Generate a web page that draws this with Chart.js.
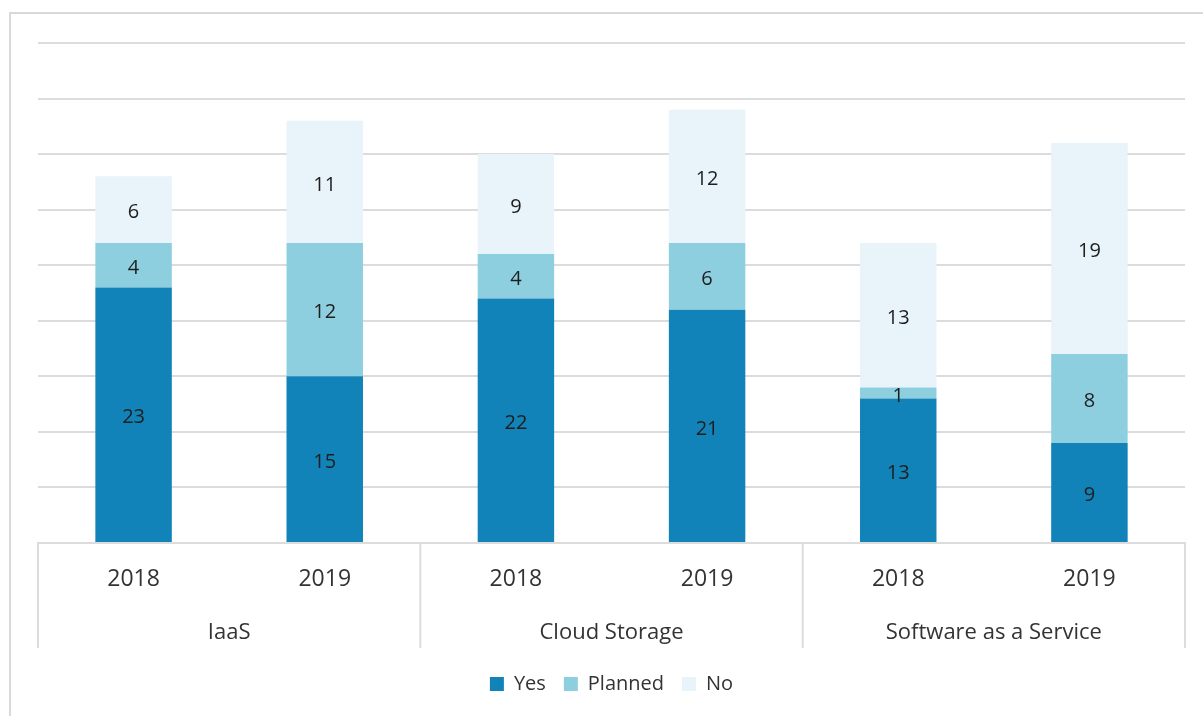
<!DOCTYPE html>
<html>
<head>
<meta charset="utf-8">
<script src="https://cdn.jsdelivr.net/npm/chart.js@4/dist/chart.umd.min.js"></script>
<style>
  html, body { margin: 0; padding: 0; background: #fff; }
  #frame {
    position: absolute; left: 9px; top: 12px; width: 1210px; height: 720px;
    border: 2px solid #d9d9d9; box-sizing: border-box;
  }
  #wrap { position: absolute; left: 0; top: 0; width: 1203px; height: 716px; }
</style>
</head>
<body>
<div id="frame"></div>
<div id="wrap"><canvas id="myChart"></canvas></div>
<script>
var years = ["2018", "2019", "2018", "2019", "2018", "2019"];
var groups = ["IaaS", "Cloud Storage", "Software as a Service"];

var yesData = [23, 15, 22, 21, 13, 9];
var plannedData = [4, 12, 4, 6, 1, 8];
var noData = [6, 11, 9, 12, 13, 19];

var FONT = "'Open Sans', 'Noto Sans', sans-serif";
var GRID = "#dcdcdc";
var TEXT = "#333333";

// value printed in the middle of each stacked segment
var segmentLabels = {
  id: "segmentLabels",
  afterDatasetsDraw: function (chart) {
    var ctx = chart.ctx;
    ctx.save();
    ctx.font = "20px " + FONT;
    ctx.fillStyle = "#1e1e1e";
    ctx.textAlign = "center";
    ctx.textBaseline = "middle";
    chart.data.datasets.forEach(function (ds, i) {
      var meta = chart.getDatasetMeta(i);
      meta.data.forEach(function (bar, j) {
        var v = ds.data[j];
        if (!v) return;
        ctx.fillText(String(v), bar.x, (bar.y + bar.base) / 2 + 3);
      });
    });
    ctx.restore();
  }
};

// second row of the x axis: group names with separators between them
var groupAxis = {
  id: "groupAxis",
  afterDraw: function (chart) {
    var ctx = chart.ctx;
    var x = chart.scales.x;
    var area = chart.chartArea;
    var top = area.bottom;
    var bottom = area.bottom + 105;
    var edges = [area.left];
    for (var g = 1; g < groups.length; g++) {
      edges.push((x.getPixelForValue(2 * g - 1) + x.getPixelForValue(2 * g)) / 2);
    }
    edges.push(area.right);

    ctx.save();
    ctx.strokeStyle = GRID;
    ctx.lineWidth = 2;
    edges.forEach(function (ex) {
      ctx.beginPath();
      ctx.moveTo(ex, top);
      ctx.lineTo(ex, bottom);
      ctx.stroke();
    });
    ctx.font = "22px " + FONT;
    ctx.fillStyle = TEXT;
    ctx.textAlign = "center";
    ctx.textBaseline = "middle";
    groups.forEach(function (name, g) {
      ctx.fillText(name, (edges[g] + edges[g + 1]) / 2, top + 90);
    });
    ctx.restore();
  }
};

var ctx2 = document.getElementById("myChart");

var myChart = new Chart(ctx2, {
  type: "bar",
  data: {
    labels: years,
    datasets: [
      { label: "Yes", data: yesData, backgroundColor: "#1283b9" },
      { label: "Planned", data: plannedData, backgroundColor: "#8ecfdf" },
      { label: "No", data: noData, backgroundColor: "#e8f3fa" }
    ]
  },
  options: {
    responsive: true,
    maintainAspectRatio: false,
    animation: false,
    layout: { padding: { left: 38, right: 18, top: 43, bottom: 12 } },
    datasets: {
      bar: { barPercentage: 0.4, categoryPercentage: 1 }
    },
    scales: {
      x: {
        stacked: true,
        grid: { display: false, drawTicks: false },
        border: { display: true, color: GRID, width: 2 },
        ticks: {
          color: TEXT,
          font: { family: FONT, size: 23 },
          padding: 23,
          maxRotation: 0
        },
        afterFit: function (scale) { scale.height = 113; }
      },
      y: {
        stacked: true,
        min: 0,
        max: 45,
        ticks: { display: false, stepSize: 5 },
        grid: { color: GRID, lineWidth: 2, drawTicks: false },
        border: { display: false },
        afterFit: function (scale) { scale.width = 0; }
      }
    },
    plugins: {
      tooltip: { enabled: false },
      legend: {
        position: "bottom",
        labels: {
          color: TEXT,
          font: { family: FONT, size: 20 },
          boxWidth: 14,
          boxHeight: 14,
          padding: 18
        }
      }
    }
  },
  plugins: [segmentLabels, groupAxis]
});
</script>
</body>
</html>
